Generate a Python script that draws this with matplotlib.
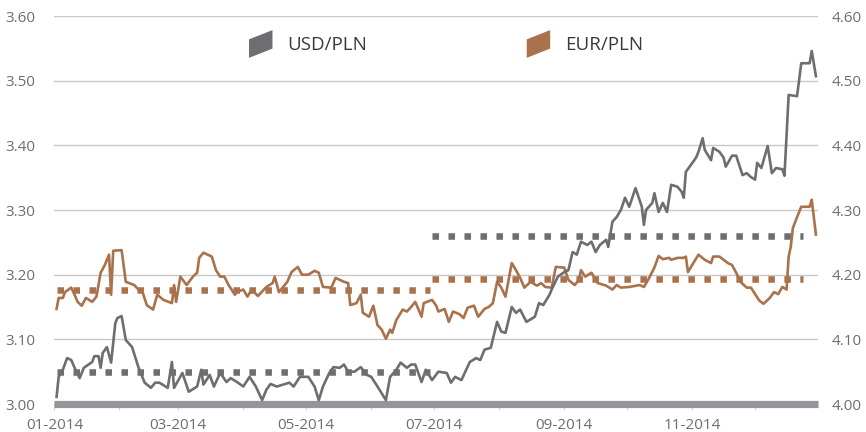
"""Kursy USD/PLN i EUR/PLN w 2014 r. ze średnimi półrocznymi."""

import matplotlib

matplotlib.use("Agg")
import matplotlib.dates as mdates
import matplotlib.pyplot as plt
import pandas as pd
from matplotlib.patches import Patch, Polygon
from matplotlib.legend_handler import HandlerPatch

plt.rcParams.update({
    "font.family": ["Open Sans", "DejaVu Sans"],
    "font.size": 11,
    "axes.linewidth": 0,
})

# Palette
COL_USD = "#6d6e71"
COL_EUR = "#a9724c"
COL_BAR = "#939598"
COL_GRID = "#c8c8c8"
COL_TICK = "#6d6e71"
COL_TEXT = "#3a3a3a"

YEAR_START = pd.Timestamp("2014-01-01")

# dni od 1 stycznia 2014 i kurs USD/PLN (lewa oś)
usd_days = [1, 2, 4, 6, 8, 10, 12, 14, 18, 19,
            21, 22, 23, 25, 27, 29, 30, 32, 34, 37,
            40, 43, 46, 48, 50, 54, 56, 57, 61, 64,
            68, 70, 71, 74, 76, 79, 82, 84, 87, 90,
            93, 96, 99, 101, 103, 106, 109, 112, 114, 117,
            121, 124, 126, 128, 131, 133, 136, 138, 140, 143,
            146, 149, 151, 154, 158, 160, 163, 165, 168, 170,
            172, 175, 177, 180, 183, 187, 189, 191, 194, 198,
            201, 203, 205, 208, 211, 213, 215, 218, 220, 222,
            225, 229, 231, 233, 236, 237, 240, 243, 245, 247,
            249, 251, 254, 256, 258, 260, 263, 264, 266, 268,
            270, 272, 274, 277, 280, 281, 282, 285, 286, 288,
            290, 292, 294, 297, 299, 300, 301, 305, 306, 307,
            309, 310, 313, 314, 317, 319, 320, 323, 325, 328,
            330, 332, 334, 335, 337, 340, 342, 344, 347, 348,
            350, 354, 356, 360, 361, 363]
usd_rate = [3.011, 3.042, 3.053, 3.071, 3.068, 3.053, 3.040, 3.056, 3.065, 3.074,
            3.074, 3.056, 3.079, 3.088, 3.064, 3.125, 3.133, 3.136, 3.099, 3.088,
            3.057, 3.033, 3.025, 3.033, 3.033, 3.025, 3.065, 3.025, 3.048, 3.019,
            3.027, 3.053, 3.030, 3.045, 3.027, 3.048, 3.034, 3.040, 3.034, 3.027,
            3.042, 3.027, 3.006, 3.022, 3.031, 3.027, 3.030, 3.033, 3.027, 3.042,
            3.042, 3.027, 3.006, 3.027, 3.048, 3.057, 3.056, 3.061, 3.050, 3.050,
            3.057, 3.045, 3.042, 3.027, 3.006, 3.042, 3.053, 3.064, 3.056, 3.061,
            3.061, 3.034, 3.053, 3.037, 3.050, 3.048, 3.033, 3.042, 3.037, 3.065,
            3.071, 3.068, 3.084, 3.087, 3.127, 3.112, 3.110, 3.150, 3.141, 3.146,
            3.127, 3.135, 3.156, 3.153, 3.169, 3.177, 3.197, 3.204, 3.207, 3.235,
            3.231, 3.251, 3.246, 3.251, 3.235, 3.246, 3.254, 3.243, 3.282, 3.289,
            3.300, 3.319, 3.305, 3.334, 3.305, 3.277, 3.300, 3.311, 3.326, 3.297,
            3.311, 3.297, 3.339, 3.336, 3.328, 3.319, 3.359, 3.377, 3.382, 3.390,
            3.411, 3.393, 3.377, 3.396, 3.390, 3.381, 3.367, 3.384, 3.384, 3.354,
            3.357, 3.351, 3.347, 3.373, 3.365, 3.399, 3.357, 3.365, 3.363, 3.353,
            3.478, 3.476, 3.527, 3.527, 3.546, 3.507]

# dni od 1 stycznia 2014 i kurs EUR/PLN (prawa oś)
eur_days = [1, 2, 4, 5, 8, 10, 11, 13, 15, 18,
            20, 22, 24, 26, 27, 28, 32, 34, 38, 40,
            42, 44, 47, 49, 52, 56, 57, 58, 60, 63,
            66, 68, 69, 71, 75, 77, 79, 81, 83, 86,
            87, 90, 92, 94, 97, 101, 104, 105, 107, 111,
            113, 116, 118, 121, 124, 126, 128, 132, 134, 138,
            140, 141, 144, 146, 147, 150, 152, 154, 156, 158,
            160, 161, 163, 166, 168, 170, 172, 175, 176, 180,
            182, 183, 186, 188, 190, 193, 195, 197, 200, 202,
            205, 207, 209, 211, 213, 215, 218, 220, 222, 224,
            227, 230, 232, 234, 237, 239, 243, 245, 248, 250,
            251, 253, 256, 259, 263, 266, 268, 270, 274, 279,
            281, 283, 286, 288, 290, 293, 294, 297, 300, 301,
            302, 304, 307, 310, 313, 314, 317, 319, 321, 323,
            325, 327, 330, 332, 336, 338, 341, 343, 345, 347,
            349, 350, 351, 352, 354, 356, 360, 361, 363]
eur_rate = [4.147, 4.164, 4.164, 4.173, 4.180, 4.166, 4.158, 4.152, 4.164, 4.158,
            4.166, 4.203, 4.215, 4.231, 4.169, 4.237, 4.238, 4.189, 4.184, 4.177,
            4.173, 4.153, 4.146, 4.169, 4.161, 4.156, 4.184, 4.158, 4.197, 4.184,
            4.197, 4.203, 4.226, 4.234, 4.228, 4.207, 4.197, 4.197, 4.184, 4.169,
            4.173, 4.177, 4.166, 4.177, 4.167, 4.181, 4.187, 4.197, 4.173, 4.189,
            4.204, 4.212, 4.200, 4.200, 4.206, 4.203, 4.181, 4.180, 4.195, 4.189,
            4.187, 4.153, 4.156, 4.169, 4.141, 4.135, 4.152, 4.122, 4.115, 4.101,
            4.115, 4.110, 4.130, 4.146, 4.143, 4.150, 4.158, 4.135, 4.156, 4.161,
            4.152, 4.143, 4.147, 4.127, 4.143, 4.139, 4.133, 4.149, 4.152, 4.135,
            4.147, 4.150, 4.156, 4.189, 4.180, 4.166, 4.218, 4.207, 4.195, 4.180,
            4.189, 4.183, 4.187, 4.181, 4.180, 4.212, 4.211, 4.192, 4.184, 4.192,
            4.207, 4.197, 4.203, 4.187, 4.183, 4.177, 4.184, 4.180, 4.181, 4.184,
            4.181, 4.192, 4.211, 4.229, 4.224, 4.226, 4.223, 4.226, 4.226, 4.228,
            4.204, 4.215, 4.231, 4.223, 4.218, 4.228, 4.228, 4.223, 4.218, 4.215,
            4.203, 4.189, 4.180, 4.180, 4.160, 4.155, 4.164, 4.173, 4.170, 4.181,
            4.177, 4.228, 4.243, 4.272, 4.289, 4.305, 4.305, 4.316, 4.262]

# średnie półroczne
half_start = ["2014-01-02", "2014-06-30"]
half_end = ["2014-06-29", "2014-12-24"]
usd_avg = [3.050, 3.260]
eur_avg = [4.177, 4.194]

left_ticks = [3.0, 3.1, 3.2, 3.3, 3.4, 3.5, 3.6]
right_ticks = [4.0, 4.1, 4.2, 4.3, 4.4, 4.5, 4.6]


class SkewHandler(HandlerPatch):
    """Znacznik legendy w kształcie pochylonego równoległoboku."""

    def create_artists(self, legend, orig_handle, xdescent, ydescent,
                       width, height, fontsize, trans):
        x0, y0 = -xdescent, -ydescent
        skew = height / 3
        verts = [(x0, y0), (x0 + width, y0 + skew),
                 (x0 + width, y0 + height), (x0, y0 + height - skew)]
        p = Polygon(verts, closed=True, facecolor=orig_handle.get_facecolor(),
                    edgecolor="none", transform=trans)
        return [p]


def to_dates(days):
    return YEAR_START + pd.to_timedelta(days, unit="D")


def main():
    fig = plt.figure(figsize=(8.66, 4.32), dpi=100)
    ax = fig.add_axes([0.0629, 0.0648, 0.8817, 0.8981])
    ax2 = ax.twinx()

    ax.set_zorder(2)
    ax.patch.set_visible(False)

    ax.plot(to_dates(usd_days), usd_rate, color=COL_USD, lw=1.9, zorder=3)
    ax2.plot(to_dates(eur_days), eur_rate, color=COL_EUR, lw=1.9, zorder=3)

    dots = dict(lw=4.7, dashes=(1.0, 1.45), solid_capstyle="butt",
                dash_capstyle="butt")
    for s, e, u, r in zip(half_start, half_end, usd_avg, eur_avg):
        span = pd.to_datetime([s, e])
        ax.plot(span, [u, u], color=COL_USD, zorder=2, **dots)
        ax2.plot(span, [r, r], color=COL_EUR, zorder=2, **dots)

    ax.set_xlim(pd.Timestamp("2014-01-01"), pd.Timestamp("2014-12-31"))
    ax.set_ylim(3.0, 3.6)
    ax2.set_ylim(4.0, 4.6)
    ax.set_yticks(left_ticks)
    ax2.set_yticks(right_ticks)
    ax.yaxis.set_major_formatter(plt.FormatStrFormatter("%.2f"))
    ax2.yaxis.set_major_formatter(plt.FormatStrFormatter("%.2f"))

    # siatka tylko pozioma
    ax2.set_axisbelow(True)
    ax2.grid(axis="y", color=COL_GRID, lw=1.0)
    ax2.grid(axis="x", visible=False)

    ax.xaxis.set_major_locator(mdates.MonthLocator(bymonth=[1, 3, 5, 7, 9, 11]))
    ax.xaxis.set_minor_locator(mdates.MonthLocator())
    ax.xaxis.set_major_formatter(mdates.DateFormatter("%m-%Y"))

    for a in (ax, ax2):
        for side in ("top", "left", "right", "bottom"):
            a.spines[side].set_visible(False)
    ax.spines["bottom"].set_visible(True)
    ax.spines["bottom"].set_linewidth(5.2)
    ax.spines["bottom"].set_color(COL_BAR)
    ax.spines["bottom"].set_capstyle("butt")

    ax.tick_params(axis="x", which="both", length=4, width=0.8,
                   color="#d6d6d6", colors=COL_TICK, labelsize=11, pad=6)
    ax.tick_params(axis="x", which="both", color="#d6d6d6")
    ax.tick_params(axis="y", length=0, colors=COL_TICK, labelsize=11, pad=14)
    ax2.tick_params(axis="y", length=0, colors=COL_TICK, labelsize=11, pad=10)
    ax2.tick_params(axis="x", length=0)

    handles = [Patch(facecolor=COL_USD, label="USD/PLN"),
               Patch(facecolor=COL_EUR, label="EUR/PLN")]
    leg = ax.legend(handles=handles, loc="center", bbox_to_anchor=(0.513, 0.928),
                    ncol=2, frameon=False, fontsize=13.5,
                    handler_map={Patch: SkewHandler()},
                    handlelength=1.25, handleheight=1.9,
                    handletextpad=0.8, columnspacing=8.5)
    for t in leg.get_texts():
        t.set_color(COL_TEXT)

    fig.savefig("out.png", dpi=100)
    plt.close(fig)


if __name__ == "__main__":
    main()
